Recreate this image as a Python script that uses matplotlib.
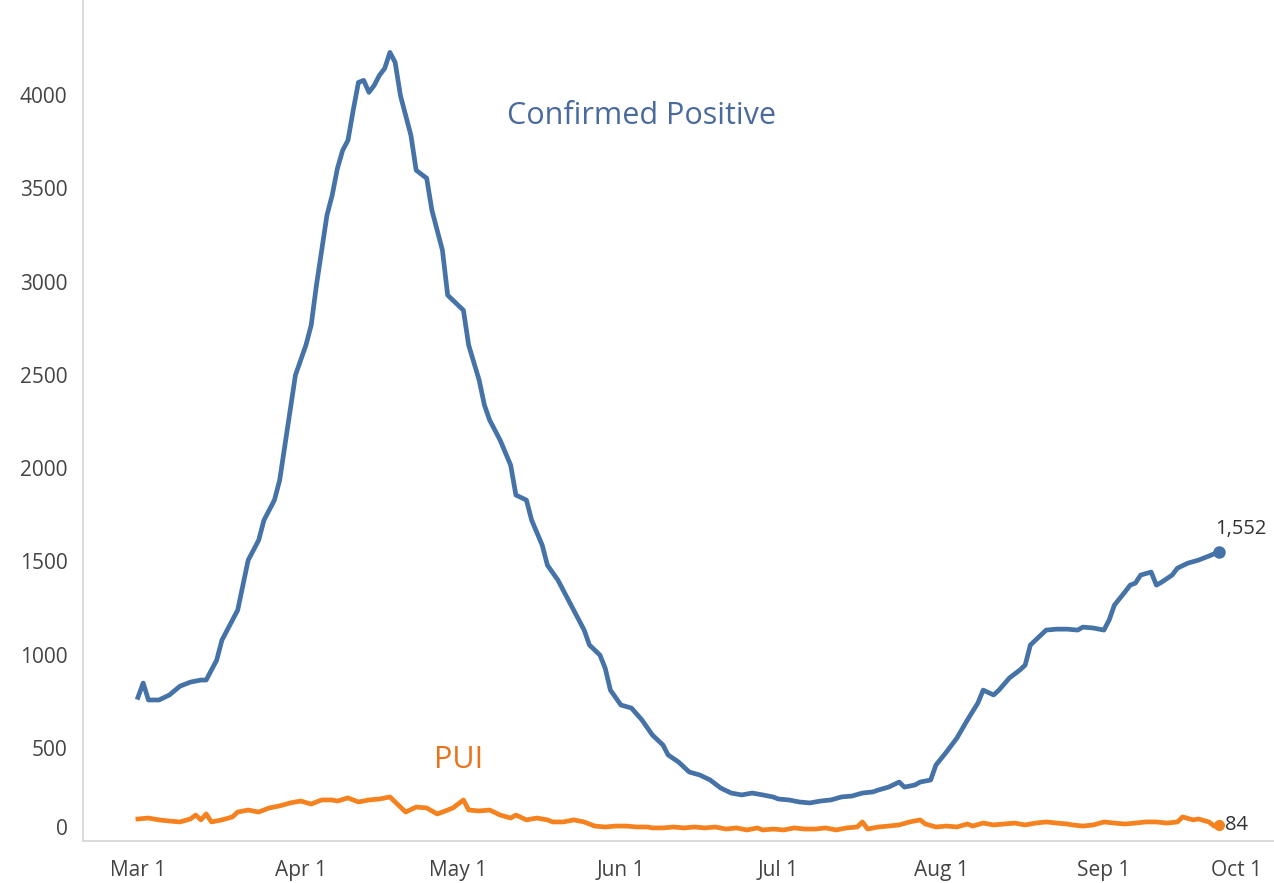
import matplotlib.pyplot as plt
import pandas as pd
from matplotlib.transforms import ScaledTranslation

plt.rcParams["font.family"] = ["Open Sans", "DejaVu Sans"]

START = pd.Timestamp("2020-03-01")

# days since Mar 1
confirmed_days = [0, 1, 2, 4, 6, 8, 10, 12, 13, 15, 16, 18, 19, 20, 21, 23, 24, 26, 27, 28,
                  29, 30, 32, 33, 34, 35, 36, 37, 38, 39, 40, 41, 42, 43, 44, 45, 46, 47, 48, 49,
                  50, 52, 53, 55, 56, 58, 59, 60, 62, 63, 65, 66, 67, 69, 71, 72, 74, 75, 77, 78,
                  80, 81, 83, 85, 86, 88, 89, 90, 92, 94, 96, 98, 100, 101, 103, 105, 107, 109, 111, 113,
                  115, 117, 119, 121, 122, 124, 126, 128, 130, 132, 134, 136, 138, 140, 141, 143, 145, 146, 148, 149,
                  151, 152, 154, 156, 158, 160, 161, 163, 164, 166, 168, 169, 170, 172, 173, 175, 177, 179, 180, 182,
                  184, 185, 186, 188, 189, 190, 191, 193, 194, 195, 197, 198, 200, 202, 204, 206]
confirmed = [770, 847, 756, 756, 783, 830, 852, 863, 863, 970, 1077, 1185, 1238, 1372, 1506, 1613, 1720, 1828, 1935, 2123,
             2310, 2498, 2659, 2766, 2980, 3168, 3355, 3463, 3607, 3704, 3757, 3918, 4068, 4079, 4015, 4052, 4106, 4143, 4229, 4175,
             3998, 3784, 3597, 3554, 3382, 3168, 2927, 2900, 2846, 2659, 2471, 2337, 2257, 2149, 2015, 1855, 1828, 1720, 1587, 1479,
             1399, 1345, 1238, 1131, 1051, 997, 927, 809, 729, 713, 649, 568, 515, 461, 423, 370, 354, 327, 284, 257,
             247, 257, 247, 236, 225, 220, 209, 204, 214, 220, 236, 241, 257, 263, 273, 289, 316, 289, 300, 316,
             327, 407, 477, 552, 649, 740, 809, 783, 809, 874, 917, 943, 1051, 1104, 1131, 1136, 1136, 1131, 1147, 1142,
             1131, 1185, 1265, 1335, 1372, 1383, 1426, 1442, 1372, 1388, 1426, 1463, 1490, 1506, 1528, 1552]

pui_days = [0, 2, 4, 6, 8, 10, 11, 12, 13, 14, 16, 18, 19, 21, 23, 25, 27, 29, 31, 33,
            35, 37, 38, 40, 42, 44, 46, 48, 49, 51, 53, 55, 57, 58, 60, 62, 63, 65, 67, 69,
            71, 72, 74, 76, 78, 79, 81, 83, 85, 87, 89, 91, 93, 95, 97, 98, 100, 102, 104, 106,
            108, 110, 112, 114, 116, 118, 119, 121, 123, 125, 127, 129, 131, 133, 135, 137, 138, 139, 141, 143,
            145, 147, 149, 150, 152, 154, 156, 158, 159, 161, 163, 165, 167, 169, 171, 173, 175, 177, 178, 180,
            182, 184, 186, 188, 190, 192, 194, 196, 198, 199, 201, 202, 204, 205, 206]
pui = [118, 123, 113, 107, 102, 118, 139, 113, 145, 102, 113, 129, 155, 166, 155, 177, 188, 204, 214, 198,
       220, 220, 214, 231, 209, 220, 225, 236, 209, 155, 182, 177, 145, 155, 177, 220, 166, 161, 166, 139,
       123, 139, 113, 123, 113, 102, 102, 113, 102, 80, 75, 80, 80, 75, 75, 70, 70, 75, 70, 75,
       70, 75, 64, 70, 59, 70, 59, 64, 59, 70, 64, 64, 70, 59, 70, 75, 102, 64, 75, 80,
       86, 102, 113, 91, 75, 80, 75, 91, 80, 96, 86, 91, 96, 86, 96, 102, 96, 91, 86, 80,
       86, 102, 96, 91, 96, 102, 102, 96, 102, 129, 113, 118, 102, 80, 84]

month_days = [0, 31, 61, 92, 122, 153, 184, 214]
month_labels = ["Mar 1", "Apr 1", "May 1", "Jun 1", "Jul 1", "Aug 1", "Sep 1", "Oct 1"]
y_ticks = [0, 500, 1000, 1500, 2000, 2500, 3000, 3500, 4000]

BLUE = "#4572a7"
ORANGE = "#f5821f"
GREY = "#444444"

conf_dates = START + pd.to_timedelta(confirmed_days, unit="D")
pui_dates = START + pd.to_timedelta(pui_days, unit="D")
tick_dates = START + pd.to_timedelta(month_days, unit="D")

fig = plt.figure(figsize=(12.74, 8.83), dpi=100)
ax = fig.add_axes([0.065, 0.0476, 0.935, 0.9524])

ax.plot(conf_dates, confirmed, color=BLUE, lw=3.4, solid_joinstyle="round")
ax.plot(pui_dates, pui, color=ORANGE, lw=3.4, solid_joinstyle="round")
ax.plot(conf_dates[-1:], confirmed[-1:], "o", color=BLUE, ms=8)
ax.plot(pui_dates[-1:], pui[-1:], "o", color=ORANGE, ms=7)

ax.annotate(f"{confirmed[-1]:,}", (conf_dates[-1], confirmed[-1]), xytext=(-3, 9),
            textcoords="offset points", fontsize=14.5, color="#333333", va="bottom")
ax.annotate(f"{pui[-1]}", (pui_dates[-1], pui[-1]), xytext=(4, 0),
            textcoords="offset points", fontsize=14.5, color="#333333", va="center")

ax.text(START + pd.Timedelta(days=96), 3890, "Confirmed Positive", color="#4a6a9c",
        fontsize=22, ha="center", va="center")
ax.text(START + pd.Timedelta(days=61), 436, "PUI", color="#e8731c",
        fontsize=22, ha="center", va="center")

ax.set_xlim(START - pd.Timedelta(days=10.5), START + pd.Timedelta(days=216.4))
ax.set_ylim(0, 4510)
ax.set_xticks(tick_dates)
ax.set_xticklabels(month_labels)
ax.set_yticks(y_ticks)
ax.tick_params(axis="both", length=0, labelsize=15, labelcolor=GREY)
ax.tick_params(axis="y", pad=11)
ax.tick_params(axis="x", pad=14)

for side in ["top", "right"]:
    ax.spines[side].set_visible(False)
for side in ["left", "bottom"]:
    ax.spines[side].set_color("#d4d4d4")
    ax.spines[side].set_linewidth(1.2)

# keep the edge labels inside the frame, as in the original
zero_lab = ax.get_yticklabels()[0]
zero_lab.set_transform(zero_lab.get_transform() + ScaledTranslation(0, 10 / 72, fig.dpi_scale_trans))
oct_lab = ax.get_xticklabels()[-1]
oct_lab.set_transform(oct_lab.get_transform() + ScaledTranslation(-18 / 72, 0, fig.dpi_scale_trans))

fig.savefig("out.png", dpi=100)
